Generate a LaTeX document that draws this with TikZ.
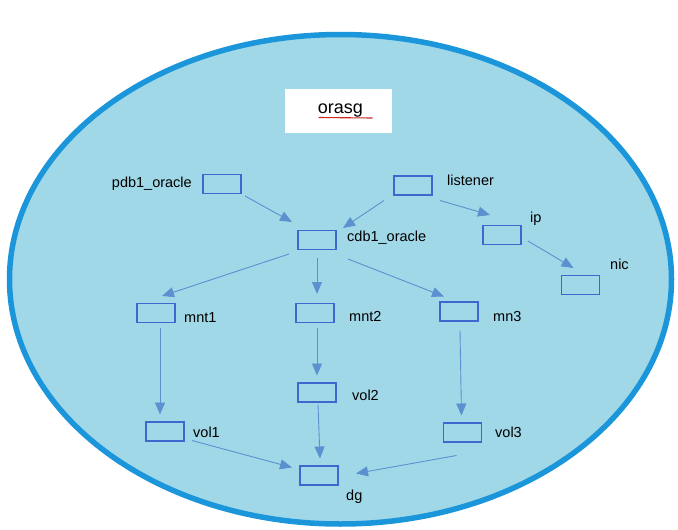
\documentclass[tikz,border=0pt]{standalone}
\usepackage{fontspec}
\setmainfont{Liberation Sans}
\usetikzlibrary{arrows.meta}
\definecolor{ellfill}{RGB}{160,216,232}
\definecolor{ellline}{RGB}{28,150,218}
\definecolor{boxline}{RGB}{62,104,206}
\definecolor{arrline}{RGB}{92,145,208}
\definecolor{squig}{RGB}{205,40,40}
\tikzset{
  cbox/.style={draw=boxline, line width=1.3pt, minimum width=38pt, minimum height=19pt, inner sep=0pt},
  lbl/.style={anchor=west, inner sep=0pt, font=\fontsize{14.5}{16}\selectfont},
  arr/.style={draw=arrline, line width=0.9pt, -{Triangle[length=12pt,width=10pt]}},
}
\begin{document}
\begin{tikzpicture}[x=1pt,y=-1pt]
\useasboundingbox (0,0) rectangle (678,530);
\fill[white] (0,0) rectangle (678,530);
\draw[ellline, fill=ellfill, line width=5.5pt] (340.5,279.25) ellipse [x radius=331, y radius=244.75];
% title
\node[fill=white, minimum width=107pt, minimum height=44pt, inner sep=0pt] (title) at (338.5,111) {};
\node[anchor=base, inner sep=0pt, font=\fontsize{18}{20}\selectfont] (titletext) at (340.5,113) {orasg};
\draw[squig, line width=1.1pt] ([xshift=-22pt,yshift=-4.5pt]titletext.base) -- ([xshift=32pt,yshift=-5pt]titletext.base);
% boxes
\node[cbox] (pdb1) at (222,184) {};
\node[cbox] (listener) at (413,185.5) {};
\node[cbox] (cdb1) at (317,240) {};
\node[cbox] (ip) at (502,235) {};
\node[cbox] (nic) at (580.5,285) {};
\node[cbox] (mnt1) at (156,313) {};
\node[cbox] (mnt2) at (315,313) {};
\node[cbox] (mn3) at (459,311.5) {};
\node[cbox] (vol2) at (317,392.5) {};
\node[cbox] (vol1) at (165,431.5) {};
\node[cbox] (vol3) at (462.5,432.5) {};
\node[cbox] (dg) at (319,475.5) {};
% labels
\node[lbl, anchor=east] (lpdb1) at (192,184) {pdb1\_oracle};
\node[lbl] (llistener) at (447,180) {listener};
\node[lbl] (lcdb1) at (347,238) {cdb1\_oracle};
\node[lbl] (lip) at (530,219) {ip};
\node[lbl] (lnic) at (610,264) {nic};
\node[lbl] (lmnt1) at (184,318) {mnt1};
\node[lbl] (lmnt2) at (349,316) {mnt2};
\node[lbl] (lmn3) at (493,317) {mn3};
\node[lbl] (lvol2) at (352,395) {vol2};
\node[lbl] (lvol1) at (193,432) {vol1};
\node[lbl] (lvol3) at (495,432) {vol3};
\node[lbl] (ldg) at (346,497) {dg};
% arrows
\draw[arr] ([shift={(23,12)}]pdb1.center) -- ([shift={(-25,-18)}]cdb1.center);
\draw[arr] ([shift={(-29,15)}]listener.center) -- ([shift={(26,-12)}]cdb1.center);
\draw[arr] ([shift={(27,15)}]listener.center) -- ([shift={(-12,-20)}]ip.center);
\draw[arr] ([shift={(26,6)}]ip.center) -- ([shift={(-7,-17)}]nic.center);
\draw[arr] ([shift={(-28,14)}]cdb1.center) -- ([shift={(6,-17)}]mnt1.center);
\draw[arr] ([shift={(0,18)}]cdb1.center) -- ([shift={(2,-19)}]mnt2.center);
\draw[arr] ([shift={(31,19)}]cdb1.center) -- ([shift={(-15,-15)}]mn3.center);
\draw[arr] ([shift={(4,15)}]mnt1.center) -- ([shift={(-5,-17)}]vol1.center);
\draw[arr] ([shift={(2,15)}]mnt2.center) -- ([shift={(0,-17)}]vol2.center);
\draw[arr] ([shift={(1,19)}]mn3.center) -- ([shift={(-1,-17)}]vol3.center);
\draw[arr] ([shift={(1,12)}]vol2.center) -- ([shift={(1,-17)}]dg.center);
\draw[arr] ([shift={(27,9)}]vol1.center) -- ([shift={(-27,-8)}]dg.center);
\draw[arr] ([shift={(-6,23)}]vol3.center) -- ([shift={(37,-2)}]dg.center);
\end{tikzpicture}
\end{document}
